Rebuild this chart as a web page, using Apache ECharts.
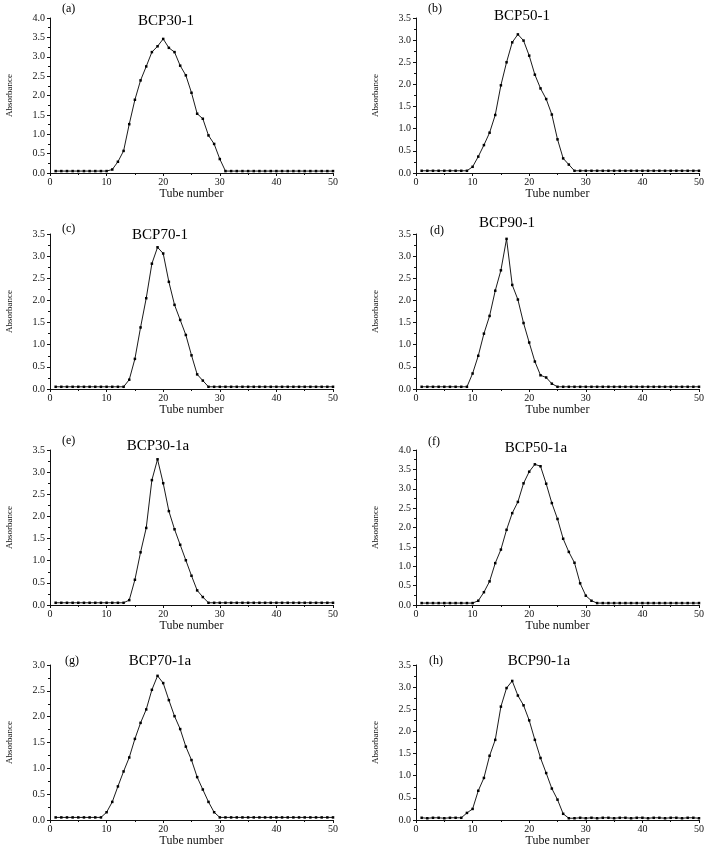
<!DOCTYPE html>
<html lang="en">
  <head>
    <meta charset="utf-8" />
    <script type="text/javascript" src="https://cdn.jsdelivr.net/npm/echarts@6/dist/echarts.min.js"></script>
    <title>Absorbance profiles</title>
    <style>
      html, body { margin: 0; padding: 0; background: #fff; }
      #chart { width: 710px; height: 854px; }
    </style>
  </head>
  <body>
    <div id="chart"></div>
    <script>
      // tube numbers 1..50
      var tubes = [1,2,3,4,5,6,7,8,9,10,11,12,13,14,15,16,17,18,19,20,21,22,23,24,25,26,27,28,29,30,31,32,33,34,35,36,37,38,39,40,41,42,43,44,45,46,47,48,49,50]

      var names = ['BCP30-1', 'BCP50-1', 'BCP70-1', 'BCP90-1', 'BCP30-1a', 'BCP50-1a', 'BCP70-1a', 'BCP90-1a']
      var letters = ['(a)', '(b)', '(c)', '(d)', '(e)', '(f)', '(g)', '(h)']
      var yMax = [4.0, 3.5, 3.5, 3.5, 3.5, 4.0, 3.0, 3.5]

      var bcp30_1 = [0.05,0.05,0.05,0.05,0.05,0.05,0.05,0.05,0.05,0.05,0.09,0.29,0.57,1.26,1.89,2.39,2.75,3.12,3.27,3.46,3.23,3.12,2.77,2.52,2.07,1.53,1.40,0.97,0.75,0.36,0.05,0.05,0.05,0.05,0.05,0.05,0.05,0.05,0.05,0.05,0.05,0.05,0.05,0.05,0.05,0.05,0.05,0.05,0.05,0.05]
      var bcp50_1 = [0.05,0.05,0.05,0.05,0.05,0.05,0.05,0.05,0.05,0.14,0.37,0.63,0.91,1.31,1.98,2.50,2.95,3.13,2.99,2.65,2.22,1.91,1.67,1.32,0.76,0.33,0.19,0.05,0.05,0.05,0.05,0.05,0.05,0.05,0.05,0.05,0.05,0.05,0.05,0.05,0.05,0.05,0.05,0.05,0.05,0.05,0.05,0.05,0.05,0.05]
      var bcp70_1 = [0.05,0.05,0.05,0.05,0.05,0.05,0.05,0.05,0.05,0.05,0.05,0.05,0.05,0.21,0.68,1.39,2.05,2.83,3.20,3.06,2.42,1.90,1.56,1.22,0.76,0.33,0.19,0.05,0.05,0.05,0.05,0.05,0.05,0.05,0.05,0.05,0.05,0.05,0.05,0.05,0.05,0.05,0.05,0.05,0.05,0.05,0.05,0.05,0.05,0.05]
      var bcp90_1 = [0.05,0.05,0.05,0.05,0.05,0.05,0.05,0.05,0.05,0.35,0.75,1.25,1.65,2.22,2.68,3.39,2.35,2.02,1.49,1.05,0.62,0.31,0.26,0.12,0.05,0.05,0.05,0.05,0.05,0.05,0.05,0.05,0.05,0.05,0.05,0.05,0.05,0.05,0.05,0.05,0.05,0.05,0.05,0.05,0.05,0.05,0.05,0.05,0.05,0.05]
      var bcp30_1a = [0.05,0.05,0.05,0.05,0.05,0.05,0.05,0.05,0.05,0.05,0.05,0.05,0.05,0.11,0.57,1.19,1.74,2.82,3.29,2.75,2.12,1.71,1.36,1.01,0.66,0.33,0.18,0.05,0.05,0.05,0.05,0.05,0.05,0.05,0.05,0.05,0.05,0.05,0.05,0.05,0.05,0.05,0.05,0.05,0.05,0.05,0.05,0.05,0.05,0.05]
      var bcp50_1a = [0.05,0.05,0.05,0.05,0.05,0.05,0.05,0.05,0.05,0.05,0.11,0.33,0.61,1.08,1.43,1.94,2.37,2.66,3.14,3.44,3.63,3.58,3.13,2.63,2.22,1.71,1.37,1.09,0.56,0.24,0.11,0.05,0.05,0.05,0.05,0.05,0.05,0.05,0.05,0.05,0.05,0.05,0.05,0.05,0.05,0.05,0.05,0.05,0.05,0.05]
      var bcp70_1a = [0.05,0.05,0.05,0.05,0.05,0.05,0.05,0.05,0.05,0.15,0.35,0.65,0.94,1.21,1.57,1.88,2.14,2.52,2.79,2.65,2.32,2.01,1.76,1.42,1.16,0.83,0.59,0.35,0.15,0.05,0.05,0.05,0.05,0.05,0.05,0.05,0.05,0.05,0.05,0.05,0.05,0.05,0.05,0.05,0.05,0.05,0.05,0.05,0.05,0.05]
      var bcp90_1a = [0.05,0.04,0.05,0.05,0.04,0.05,0.05,0.05,0.16,0.25,0.66,0.95,1.45,1.81,2.56,2.98,3.14,2.81,2.59,2.25,1.81,1.40,1.06,0.71,0.46,0.14,0.04,0.04,0.05,0.04,0.05,0.04,0.05,0.05,0.04,0.05,0.05,0.04,0.05,0.05,0.04,0.05,0.05,0.04,0.05,0.05,0.04,0.05,0.05,0.04]

      var seriesData = [bcp30_1, bcp50_1, bcp70_1, bcp90_1, bcp30_1a, bcp50_1a, bcp70_1a, bcp90_1a]

      // panel placement: [left, top] of each plot area
      var lefts = [50, 416]
      var tops = [18, 234, 450, 665]
      var plotW = 283
      var plotH = 155

      var serif = '"Liberation Serif", "DejaVu Serif", serif'
      var ink = '#111'

      var grids = [], xAxes = [], yAxes = [], series = [], titles = []

      for (var i = 0; i < 8; i++) {
        var col = i % 2
        var row = Math.floor(i / 2)
        grids.push({ left: lefts[col], top: tops[row], width: plotW, height: plotH })

        xAxes.push({
          gridIndex: i, type: 'value', min: 0, max: 50, interval: 10,
          name: 'Tube number', nameLocation: 'middle', nameGap: 15,
          nameTextStyle: { fontFamily: serif, fontSize: 12, color: ink },
          axisLine: { lineStyle: { color: ink, width: 1 } },
          axisTick: { length: 3, lineStyle: { color: ink } },
          minorTick: { show: true, splitNumber: 2, length: 2, lineStyle: { color: ink } },
          axisLabel: { fontFamily: serif, fontSize: 10, color: ink, margin: 4 },
          splitLine: { show: false }
        })

        yAxes.push({
          gridIndex: i, type: 'value', min: 0, max: yMax[i], interval: 0.5,
          name: 'Absorbance', nameLocation: 'middle', nameGap: 36,
          nameTextStyle: { fontFamily: serif, fontSize: 9, color: ink },
          axisLine: { show: true, lineStyle: { color: ink, width: 1 } },
          axisTick: { show: true, length: 3, lineStyle: { color: ink } },
          minorTick: { show: true, splitNumber: 2, length: 2, lineStyle: { color: ink } },
          axisLabel: {
            fontFamily: serif, fontSize: 10, color: ink, margin: 5,
            formatter: function (v) { return v.toFixed(1) }
          },
          splitLine: { show: false }
        })

        series.push({
          type: 'line', xAxisIndex: i, yAxisIndex: i,
          data: tubes.map(function (t, k) { return [t, seriesData[i][k]] }),
          symbol: 'rect', symbolSize: 2.5,
          itemStyle: { color: '#000' },
          lineStyle: { color: '#000', width: 0.9 },
          animation: false
        })
      }

      // panel titles and letters
      var titlePos = [[166, 14], [522, 9], [160, 228], [507, 216], [158, 439], [536, 441], [160, 654], [539, 654]]
      var letterPos = [[62, 3], [428, 3], [62, 223], [430, 225], [62, 435], [428, 436], [65, 655], [429, 655]]
      for (var j = 0; j < 8; j++) {
        titles.push({
          text: names[j], left: titlePos[j][0], top: titlePos[j][1], textAlign: 'center',
          textStyle: { fontFamily: serif, fontSize: 15, fontWeight: 'normal', color: '#000' },
          padding: 0
        })
        titles.push({
          text: letters[j], left: letterPos[j][0], top: letterPos[j][1],
          textStyle: { fontFamily: serif, fontSize: 12, fontWeight: 'normal', color: '#000' },
          padding: 0
        })
      }

      var chart = echarts.init(document.getElementById('chart'), null, { renderer: 'canvas' })
      chart.setOption({
        backgroundColor: '#fff',
        animation: false,
        title: titles,
        grid: grids,
        xAxis: xAxes,
        yAxis: yAxes,
        series: series
      })
    </script>
  </body>
</html>
